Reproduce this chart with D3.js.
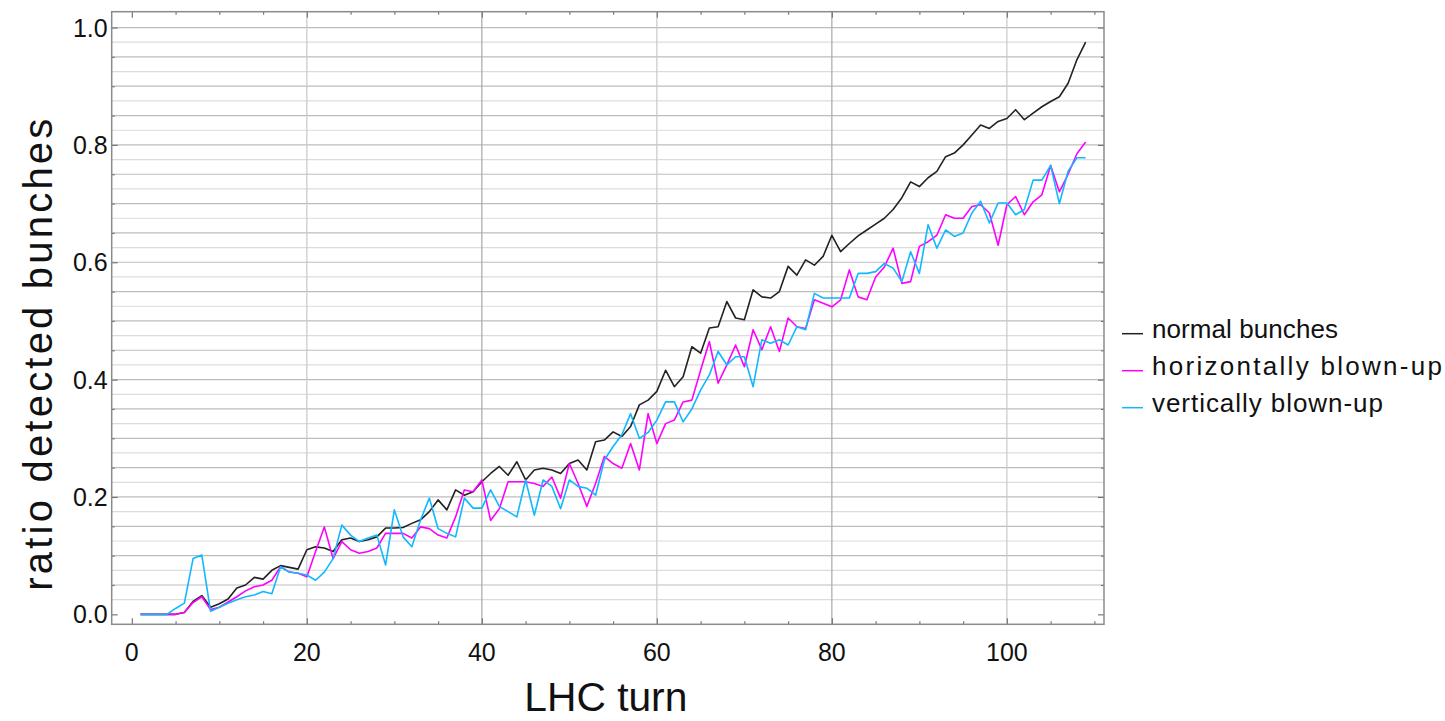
<!DOCTYPE html>
<html>
<head>
<meta charset="utf-8">
<script src="https://cdn.jsdelivr.net/npm/d3@7"></script>
<style>
  body { margin: 0; background: #fff; }
  text { font-family: "Liberation Sans", Arial, Helvetica, sans-serif; fill: #111; }
</style>
</head>
<body>
<div id="graph"></div>
<script>
// turns 1..109
const turns = d3.range(1, 110);

const normal = [0, 0, 0, 0, 0, 0.003, 0.022, 0.032, 0.012, 0.018,
    0.026, 0.045, 0.05, 0.063, 0.06, 0.075, 0.083, 0.08, 0.077, 0.11,
    0.115, 0.113, 0.107, 0.127, 0.13, 0.124, 0.127, 0.132, 0.147, 0.147,
    0.148, 0.155, 0.161, 0.175, 0.195, 0.178, 0.212, 0.203, 0.209, 0.226,
    0.24, 0.252, 0.237, 0.26, 0.229, 0.246, 0.249, 0.246, 0.24, 0.257,
    0.263, 0.246, 0.294, 0.297, 0.311, 0.303, 0.32, 0.357, 0.365, 0.38,
    0.416, 0.388, 0.405, 0.456, 0.445, 0.488, 0.49, 0.533, 0.505, 0.502,
    0.553, 0.541, 0.539, 0.55, 0.593, 0.578, 0.604, 0.595, 0.61, 0.646,
    0.618, 0.632, 0.645, 0.655, 0.665, 0.675, 0.69, 0.71, 0.737, 0.729,
    0.744, 0.755, 0.78, 0.786, 0.8, 0.817, 0.834, 0.828, 0.84, 0.845,
    0.86, 0.843, 0.854, 0.865, 0.874, 0.882, 0.905, 0.945, 0.975];

const horizontal = [0, 0, 0, 0, 0, 0.003, 0.02, 0.03, 0.008, 0.012,
    0.021, 0.03, 0.04, 0.047, 0.05, 0.058, 0.081, 0.072, 0.07, 0.064,
    0.107, 0.149, 0.095, 0.124, 0.11, 0.104, 0.107, 0.113, 0.138, 0.138,
    0.138, 0.13, 0.149, 0.146, 0.135, 0.13, 0.166, 0.212, 0.209, 0.229,
    0.16, 0.18, 0.226, 0.226, 0.226, 0.223, 0.218, 0.234, 0.198, 0.257,
    0.223, 0.184, 0.223, 0.269, 0.257, 0.249, 0.291, 0.246, 0.342, 0.291,
    0.325, 0.331, 0.362, 0.365, 0.416, 0.465, 0.394, 0.425, 0.459, 0.422,
    0.485, 0.451, 0.49, 0.448, 0.505, 0.49, 0.487, 0.536, 0.53, 0.524,
    0.536, 0.587, 0.541, 0.536, 0.575, 0.592, 0.624, 0.564, 0.567, 0.627,
    0.635, 0.646, 0.681, 0.675, 0.675, 0.695, 0.698, 0.684, 0.629, 0.698,
    0.712, 0.681, 0.703, 0.715, 0.765, 0.72, 0.75, 0.785, 0.805];

const vertical = [0, 0, 0, 0, 0.01, 0.019, 0.095, 0.101, 0.005, 0.012,
    0.019, 0.025, 0.03, 0.033, 0.039, 0.035, 0.081, 0.072, 0.07, 0.067,
    0.058, 0.072, 0.095, 0.152, 0.135, 0.124, 0.13, 0.135, 0.084, 0.178,
    0.132, 0.115, 0.161, 0.198, 0.146, 0.138, 0.132, 0.198, 0.181, 0.181,
    0.212, 0.184, 0.175, 0.166, 0.229, 0.169, 0.229, 0.218, 0.18, 0.229,
    0.218, 0.215, 0.203, 0.263, 0.286, 0.306, 0.342, 0.3, 0.31, 0.331,
    0.362, 0.362, 0.328, 0.35, 0.382, 0.408, 0.448, 0.425, 0.439, 0.439,
    0.388, 0.468, 0.462, 0.468, 0.459, 0.49, 0.485, 0.547, 0.539, 0.539,
    0.539, 0.539, 0.581, 0.581, 0.584, 0.598, 0.59, 0.567, 0.618, 0.581,
    0.664, 0.624, 0.655, 0.644, 0.65, 0.684, 0.704, 0.667, 0.701, 0.701,
    0.681, 0.69, 0.74, 0.74, 0.765, 0.7, 0.755, 0.778, 0.778];

const seriesNames = ["normal bunches", "horizontally blown-up", "vertically blown-up"];
const seriesColors = ["#222222", "#ff00ff", "#10b8ff"];
const xTicks = [0, 20, 40, 60, 80, 100];
const yTicks = [0.0, 0.2, 0.4, 0.6, 0.8, 1.0];

const width = 1445, height = 721;
const margin = {top: 11.7, right: 341, bottom: 96.7, left: 111.7};
const plotW = width - margin.left - margin.right;
const plotH = height - margin.top - margin.bottom;

let svg = d3.select("#graph")
    .append("svg")
    .attr("width", width)
    .attr("height", height)
    .append("g")
    .attr("transform", `translate(${margin.left}, ${margin.top})`);

let x = d3.scaleLinear().domain([-2.3, 111.1]).range([0, plotW]);
let y = d3.scaleLinear().domain([-0.017, 1.027]).range([plotH, 0]);

// horizontal grid, every 0.025
svg.append("g")
    .selectAll("line")
    .data(d3.range(1, 41).map(i => i * 0.025))
    .enter()
    .append("line")
    .attr("x1", 0).attr("x2", plotW)
    .attr("y1", d => y(d)).attr("y2", d => y(d))
    .attr("stroke", (d, i) => i % 2 ? "#bdbdbd" : "#dcdcdc")
    .attr("stroke-width", 1.2);

// vertical grid
svg.append("g")
    .selectAll("line")
    .data(xTicks.slice(1))
    .enter()
    .append("line")
    .attr("x1", d => x(d)).attr("x2", d => x(d))
    .attr("y1", 0).attr("y2", plotH)
    .attr("stroke", (d, i) => i % 2 ? "#a8a8a8" : "#c8c8c8")
    .attr("stroke-width", 1.2);

// axes with inward ticks
function styleAxis(g) {
    g.select(".domain").remove();
    g.selectAll(".tick line").attr("stroke", "#777").attr("stroke-width", 1.2);
}
let xMinor = d3.range(0, 111, 5).filter(v => v % 20 != 0);
let yMinor = d3.range(0, 21).map(i => i * 0.05).filter((v, i) => i % 4 != 0);

svg.append("g").attr("transform", `translate(0, ${plotH})`)
    .call(d3.axisBottom(x).tickValues(xTicks).tickSize(-6).tickFormat(""))
    .call(styleAxis);
svg.append("g").attr("transform", `translate(0, ${plotH})`)
    .call(d3.axisBottom(x).tickValues(xMinor).tickSize(-3).tickFormat(""))
    .call(styleAxis);
svg.append("g")
    .call(d3.axisTop(x).tickValues(xTicks).tickSize(-6).tickFormat(""))
    .call(styleAxis);
svg.append("g")
    .call(d3.axisTop(x).tickValues(xMinor).tickSize(-3).tickFormat(""))
    .call(styleAxis);
svg.append("g")
    .call(d3.axisLeft(y).tickValues(yTicks).tickSize(-6).tickFormat(""))
    .call(styleAxis);
svg.append("g")
    .call(d3.axisLeft(y).tickValues(yMinor).tickSize(-3).tickFormat(""))
    .call(styleAxis);
svg.append("g").attr("transform", `translate(${plotW}, 0)`)
    .call(d3.axisRight(y).tickValues(yTicks).tickSize(-6).tickFormat(""))
    .call(styleAxis);
svg.append("g").attr("transform", `translate(${plotW}, 0)`)
    .call(d3.axisRight(y).tickValues(yMinor).tickSize(-3).tickFormat(""))
    .call(styleAxis);

// tick labels
svg.append("g")
    .selectAll("text")
    .data(xTicks)
    .enter()
    .append("text")
    .attr("x", d => x(d))
    .attr("y", plotH + 37)
    .style("text-anchor", "middle")
    .style("font-size", "25px")
    .text(d => d);

svg.append("g")
    .selectAll("text")
    .data(yTicks)
    .enter()
    .append("text")
    .attr("x", -4)
    .attr("y", d => y(d) + 9)
    .style("text-anchor", "end")
    .style("font-size", "25px")
    .text(d => d3.format(".1f")(d));

// series
let series = [normal, horizontal, vertical];
let line = d3.line()
    .x((d, i) => x(turns[i]))
    .y(d => y(d));

svg.append("g")
    .selectAll("path")
    .data(series)
    .enter()
    .append("path")
    .attr("fill", "none")
    .attr("stroke", (d, i) => seriesColors[i])
    .attr("stroke-width", 1.6)
    .attr("stroke-linejoin", "round")
    .attr("d", line);

// frame
svg.append("rect")
    .attr("width", plotW)
    .attr("height", plotH)
    .attr("fill", "none")
    .attr("stroke", "#8a8a8a")
    .attr("stroke-width", 1.5);

// axis titles
svg.append("text")
    .attr("x", plotW / 2 - 2)
    .attr("y", plotH + 87)
    .style("text-anchor", "middle")
    .style("font-size", "40px")
    .attr("textLength", 163)
    .attr("lengthAdjust", "spacingAndGlyphs")
    .text("LHC turn");

svg.append("text")
    .attr("transform", `translate(-60, 343) rotate(-90)`)
    .style("text-anchor", "middle")
    .style("font-size", "40px")
    .attr("textLength", 472)
    .attr("lengthAdjust", "spacing")
    .text("ratio detected bunches");

// legend
const legendWidths = [186, 290, 231];
let legend = svg.append("g")
    .attr("transform", `translate(${plotW + 18}, 0)`);
let rows = legend.selectAll("g")
    .data(seriesNames)
    .enter()
    .append("g")
    .attr("transform", (d, i) => `translate(0, ${326 + i * 37})`);
rows.append("line")
    .attr("x1", 0).attr("x2", 21)
    .attr("y1", -4).attr("y2", -4)
    .attr("stroke", (d, i) => seriesColors[i])
    .attr("stroke-width", 1.5);
rows.append("text")
    .attr("x", 30)
    .attr("y", 0)
    .style("font-size", "26px")
    .attr("textLength", (d, i) => legendWidths[i])
    .attr("lengthAdjust", "spacing")
    .text(d => d);
</script>
</body>
</html>
